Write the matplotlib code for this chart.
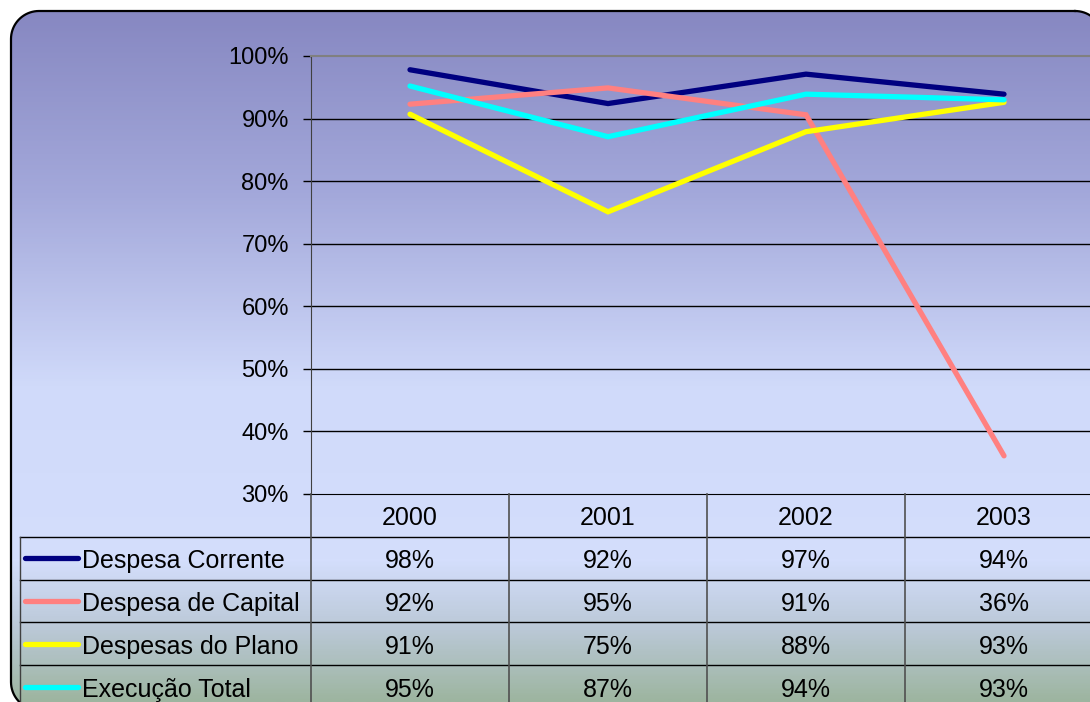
import numpy as np
import matplotlib
matplotlib.use('Agg')
import matplotlib.pyplot as plt
from matplotlib.patches import Polygon
from matplotlib.colors import LinearSegmentedColormap
from matplotlib.ticker import FuncFormatter

plt.rcParams['font.family'] = ['Liberation Sans', 'DejaVu Sans']

# Data
years = ['2000', '2001', '2002', '2003']
series = ['Despesa Corrente', 'Despesa de Capital', 'Despesas do Plano', 'Execução Total']
despesa_corrente = [97.8, 92.4, 97.1, 93.9]
despesa_capital = [92.3, 94.9, 90.6, 36.1]
despesas_plano = [90.7, 75.1, 87.9, 92.6]
execucao_total = [95.2, 87.1, 93.9, 93.0]
values = [despesa_corrente, despesa_capital, despesas_plano, execucao_total]
colors = ['#000080', '#FF8080', '#FFFF00', '#00FFFF']

W, H = 1090, 702
fig = plt.figure(figsize=(W / 100, H / 100), dpi=100)


def rounded_rect(x0, y0, x1, y1, r, n=20):
    # outline of a rounded rectangle, y pointing down
    pts = []
    corners = [(x1 - r, y0 + r, -90, 0), (x1 - r, y1 - r, 0, 90),
               (x0 + r, y1 - r, 90, 180), (x0 + r, y0 + r, 180, 270)]
    for cx, cy, a0, a1 in corners:
        t = np.radians(np.linspace(a0, a1, n))
        pts += list(zip(cx + r * np.cos(t), cy + r * np.sin(t)))
    pts.append(pts[0])
    return np.array(pts)


# background with gradient inside a rounded frame (pixel coordinates)
bg = fig.add_axes([0, 0, 1, 1])
bg.axis('off')
stops = [(0.0, '#8586C0'), (0.28, '#A4A9DB'), (0.55, '#D0DAFA'),
         (0.80, '#D4DEFC'), (0.90, '#BAC8D6'), (1.0, '#9DB5A0')]
cmap = LinearSegmentedColormap.from_list('bg', stops)
grad = np.linspace(0, 1, 400).reshape(-1, 1)
img = bg.imshow(grad, cmap=cmap, aspect='auto', extent=[0, W, H, 0], zorder=1)
outline = rounded_rect(11, 11, 1103, 710, 28)
clip = Polygon(outline, closed=True, facecolor='none', edgecolor='none')
bg.add_patch(clip)
img.set_clip_path(clip)
bg.plot(outline[:, 0], outline[:, 1], color='black', lw=1.6, zorder=3)
bg.set_xlim(0, W)
bg.set_ylim(H, 0)

# main line chart
ax = fig.add_axes([311 / W, 208 / H, 792 / W, 438 / H])
ax.patch.set_alpha(0)
x = np.arange(len(years))
for vals, c, name in zip(values, colors, series):
    ax.plot(x, vals, color=c, lw=3.8, solid_capstyle='round', solid_joinstyle='miter', label=name, zorder=3)
ax.set_xlim(-0.5, 3.5)
ax.set_ylim(30, 100)
ax.set_yticks(range(30, 101, 10))
ax.yaxis.set_major_formatter(FuncFormatter(lambda v, p: f'{v:.0f}%'))
ax.tick_params(axis='y', labelsize=17, length=6, width=1, pad=10, colors='black')
ax.set_xticks([])
for y in range(40, 100, 10):
    ax.axhline(y, color='black', lw=1, zorder=1)
ax.spines['top'].set_color('#808080')
ax.spines['top'].set_linewidth(1.5)
ax.spines['right'].set_visible(False)
ax.spines['left'].set_color('#404040')
ax.spines['bottom'].set_color('black')

# data table below, sharing the category axis
tab = fig.add_axes([311 / W, -6 / H, 792 / W, 214 / H])
tab.patch.set_alpha(0)
tab.set_xlim(-0.5, 3.5)
tab.set_ylim(5, 0)
tab.axis('off')
left = -1.97
for i in range(1, 5):
    tab.plot([left, 3.6], [i, i], color='black', lw=1, clip_on=False)
tab.plot([left, left], [1, 5.2], color='#404040', lw=1, clip_on=False)
for xv in [-0.5, 0.5, 1.5, 2.5]:
    tab.plot([xv, xv], [0, 5.2], color='#505050', lw=1.2, clip_on=False)
off = 0.07
for j, yr in enumerate(years):
    tab.text(j, 0.5 + off, yr, ha='center', va='center', fontsize=18)
for i, (vals, c, name) in enumerate(zip(values, colors, series)):
    row = i + 1.5
    tab.plot([-1.944, -1.677], [row, row], color=c, lw=3.8, solid_capstyle='round', clip_on=False)
    tab.text(-1.657, row + off, name, ha='left', va='center', fontsize=18, clip_on=False)
    for j, v in enumerate(vals):
        tab.text(j, row + off, f'{v:.0f}%', ha='center', va='center', fontsize=18)

fig.savefig('out.png', dpi=100)
